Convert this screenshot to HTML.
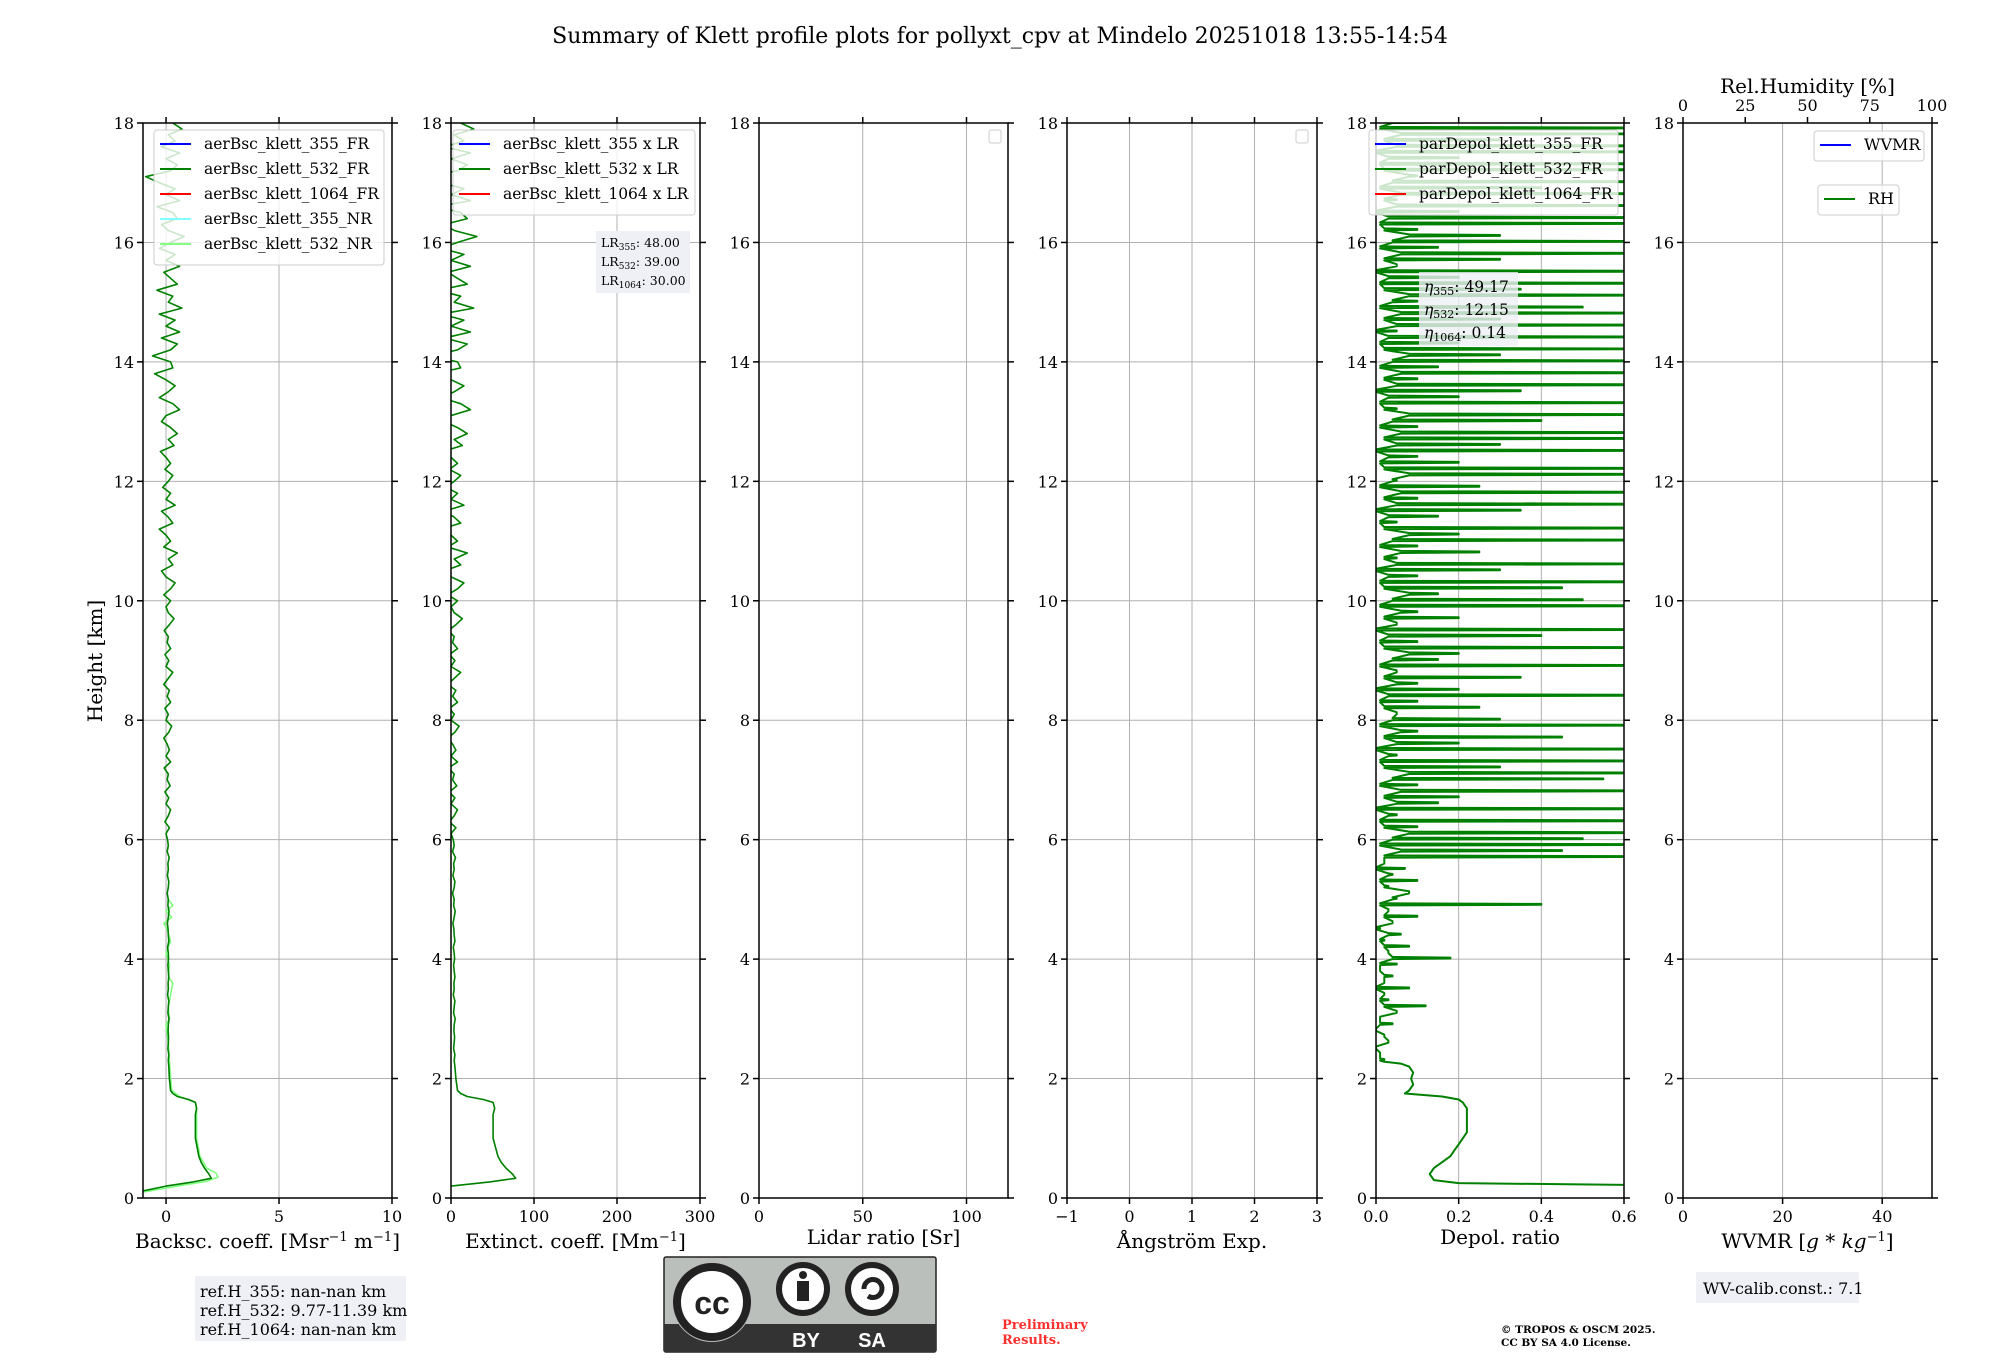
<!DOCTYPE html>
<html><head><meta charset="utf-8"><style>
body{margin:0;background:#fff}
svg{display:block;font-family:"DejaVu Serif","Liberation Serif",serif}
</style></head><body>
<svg id="fig" width="2000" height="1360" viewBox="0 0 2000 1360" xmlns="http://www.w3.org/2000/svg">
<text x="1000" y="43" font-size="22" text-anchor="middle">Summary of Klett profile plots for pollyxt_cpv at Mindelo 20251018 13:55-14:54</text>
<g id="panels"></g>
<text transform="translate(102,661) rotate(-90)" font-size="20" text-anchor="middle">Height [km]</text>
<g>
<rect x="195" y="1276" width="211" height="65" fill="#eef0f5"/>
<text x="200" y="1297" font-size="16">ref.H_355: nan-nan km</text>
<text x="200" y="1316" font-size="16">ref.H_532: 9.77-11.39 km</text>
<text x="200" y="1335" font-size="16">ref.H_1064: nan-nan km</text>
</g>
<g>
<rect x="664" y="1257" width="272" height="95" fill="#bbbfbb" stroke="#222" stroke-width="1.5" rx="2"/>
<rect x="664" y="1324" width="272" height="28" fill="#333"/>
<circle cx="712" cy="1302" r="40" fill="#bbbfbb"/>
<circle cx="712" cy="1302" r="35" fill="#fff" stroke="#222" stroke-width="8"/>
<text x="712" y="1314" font-family="Liberation Sans" font-weight="bold" font-size="32" text-anchor="middle" fill="#222">cc</text>
<circle cx="803" cy="1289" r="24" fill="#fff" stroke="#222" stroke-width="6"/>
<circle cx="803" cy="1275" r="4" fill="#222"/>
<rect x="797" y="1281" width="12" height="20" fill="#222"/>
<circle cx="872" cy="1289" r="24" fill="#fff" stroke="#222" stroke-width="6"/>
<path d="M864 1289 a9 9 0 1 1 4 7" fill="none" stroke="#222" stroke-width="5"/>
<text x="806" y="1347" font-family="Liberation Sans" font-weight="bold" font-size="20" text-anchor="middle" fill="#fff">BY</text>
<text x="872" y="1347" font-family="Liberation Sans" font-weight="bold" font-size="20" text-anchor="middle" fill="#fff">SA</text>
</g>
<text x="1002" y="1329" font-size="13" font-weight="bold" fill="#ff3030">Preliminary</text>
<text x="1002" y="1344" font-size="13" font-weight="bold" fill="#ff3030">Results.</text>
<text x="1501" y="1333" font-size="10.5" font-weight="bold">© TROPOS &amp; OSCM 2025.</text>
<text x="1501" y="1346" font-size="10.5" font-weight="bold">CC BY SA 4.0 License.</text>
<g>
<rect x="1696" y="1272" width="163" height="31" fill="#eef0f5"/>
<text x="1703" y="1294" font-size="16">WV-calib.const.: 7.1</text>
</g>
</svg>
<script>
// ---- data ----
const bsc532Low = [[0.12,-1.0],[0.2,0.0],[0.27,1.2],[0.33,2.0],[0.4,1.9],[0.5,1.7],[0.6,1.55],[0.7,1.45],[0.8,1.4],[1.0,1.3],[1.2,1.3],[1.4,1.3],[1.5,1.35],[1.6,1.3],[1.65,1.0],[1.7,0.5],[1.75,0.3],[1.8,0.2],[2.0,0.15],[2.2,0.12]];
const bsc532Start = 2.3, bsc532Step = 0.1;
const bsc532Vals = [0.1,0.12,0.08,0.1,0.11,0.09,0.1,0.13,0.08,0.1,0.12,0.07,0.1,0.09,0.12,0.1,0.08,0.11,0.1,0.07,0.12,0.1,0.09,0.06,0.1,0.13,0.08,0.1,0.05,0.1,0.12,0.06,0.1,0.08,0.14,0.05,0.1,0.07,
0.0,0.15,-0.05,0.1,0.2,0.0,0.12,-0.05,0.18,0.05,0.1,-0.08,0.2,0.0,0.15,0.05,-0.1,0.12,0.25,0.0,0.1,-0.05,0.2,0.05,0.15,-0.1,0.1,0.3,0.0,0.12,-0.05,0.2,0.05,0.1,-0.08,0.15,0.35,0.1,0.0,0.2,
-0.1,0.2,0.4,0.0,-0.2,0.3,0.1,0.5,-0.1,0.2,0.0,-0.3,0.3,0.1,-0.2,0.4,0.0,0.2,-0.15,0.1,0.3,-0.05,0.2,0.0,-0.25,0.35,0.1,0.5,0.2,-0.2,0.0,0.6,0.3,-0.3,0.1,0.4,0.0,-0.5,0.3,0.2,
-0.6,0.2,0.5,-0.2,0.6,0.0,0.4,-0.3,0.7,0.1,0.3,-0.4,0.5,0.2,-0.1,0.6,0.0,0.4,-0.3,0.2,0.8,0.1,-0.2,0.5,0.3,-0.4,0.6,0.0,0.4,-0.3,-0.9,0.2,0.5,0.0,0.6,-0.2,0.4,0.1,0.7,0.3];
const bsc532NR = [[0.1,-1.0],[0.2,0.5],[0.28,1.8],[0.35,2.3],[0.42,2.2],[0.5,1.8],[0.7,1.5],[1.0,1.35],[1.5,1.35],[1.6,1.3],[1.7,0.6],[1.8,0.25],[2.0,0.2],[2.3,0.15],[2.6,0.1],[2.9,0.0],[3.0,0.15],[3.2,0.1],[3.4,0.2],[3.6,0.3],[3.7,0.1],[3.9,0.15],[4.1,0.0],[4.3,0.2],[4.5,0.05],[4.6,-0.1],[4.7,0.25],[4.8,0.0],[4.9,0.3],[5.0,0.1]];
const LR532 = 39;
const depolLow = [[0.22,0.6],[0.25,0.2],[0.3,0.14],[0.4,0.13],[0.5,0.14],[0.6,0.16],[0.7,0.18],[0.8,0.19],[0.9,0.2],[1.0,0.21],[1.1,0.22],[1.3,0.22],[1.5,0.22],[1.6,0.21],[1.65,0.2],[1.7,0.16],[1.75,0.07],[1.8,0.08],[1.9,0.09],[2.0,0.085],[2.1,0.09],[2.2,0.08],[2.25,0.06],[2.28,0.02]];
const depolStart = 2.3, depolStep = 0.1;
const depolBase = [0.01,0.03,0.0,0.05,0.02,0.06,0.01,0.04,0.08,0.02];
const depolVals = [0.02,0.01,0.0,0.03,0.02,0.0,0.04,0.01,0.05,0.12,0.03,0.02,0.08,0.02,0.04,0.01,0.05,0.18,
0.03,0.08,0.02,0.06,0.01,0.04,0.1,0.03,0.4,0.05,0.08,0.03,0.1,0.04,0.07,0.02,
0.6,0.45,0.6,0.5,0.6,
0.1,0.6,0.05,0.6,0.15,0.2,0.6,0.1,0.55,0.6,0.3,0.6,0.05,0.6,0.2,0.45,0.1,0.6,0.3,0.05,0.25,0.1,0.6,0.2,0.1,0.35,0.05,0.6,0.15,0.2,0.6,0.1,0.4,0.6,0.05,0.2,0.1,0.6,0.5,0.15,0.45,0.6,0.1,0.3,0.6,0.05,0.25,0.1,0.6,0.2,0.6,0.05,0.15,0.35,0.6,0.1,0.6,0.25,0.05,0.6,0.6,0.2,0.1,0.6,0.3,0.6,0.6,0.1,0.4,0.6,0.05,0.6,0.2,0.35,0.6,0.1,0.6,0.15,0.6,0.3,0.6,0.2,0.6,0.05,0.6,0.3,0.6,0.5,0.1,0.6,0.35,0.6,0.2,0.6,0.05,0.3,0.6,0.15,0.6,0.3,0.1,0.6,0.6,0.2,0.6,0.05,0.6,0.4,0.6,0.1,0.6,0.6,0.2,0.6,0.6,0.3,0.6,0.6,0.2];
const heightTicks = [0,2,4,6,8,10,12,14,16,18];

// ---- layout ----
const NS = "http://www.w3.org/2000/svg";
const TOP = 123, BOT = 1198, HMAX = 18;
const yS = h => BOT - h / HMAX * (BOT - TOP);
const panelsG = document.getElementById('panels');
function el(tag, attrs, parent) {
  const e = document.createElementNS(NS, tag);
  for (const k in attrs) e.setAttribute(k, attrs[k]);
  (parent || panelsG).appendChild(e);
  return e;
}
const panels = [
  {id:'backscatter', l:143, r:392, xmin:-1.02, xmax:10, ticks:[0,5,10], fmt:v=>String(v)},
  {id:'extinction', l:451, r:700, xmin:0, xmax:300, ticks:[0,100,200,300], fmt:v=>String(v)},
  {id:'lidar-ratio', l:759, r:1008, xmin:0, xmax:120, ticks:[0,50,100], fmt:v=>String(v)},
  {id:'angstrom', l:1067, r:1317, xmin:-1, xmax:3, ticks:[-1,0,1,2,3], fmt:v=>v<0?'\u2212'+(-v):String(v)},
  {id:'depol', l:1376, r:1624, xmin:0, xmax:0.6, ticks:[0,0.2,0.4,0.6], fmt:v=>v.toFixed(1)},
  {id:'wvmr', l:1683, r:1932, xmin:0, xmax:50, ticks:[0,20,40], fmt:v=>String(v)}
];
panels.forEach((p, i) => {
  p.x = v => p.l + (v - p.xmin) / (p.xmax - p.xmin) * (p.r - p.l);
  const g = el('g', {});
  
  
  p.g = g;
  const cp = el('clipPath', {id:'clip' + i}, g);
  el('rect', {x:p.l, y:TOP, width:p.r - p.l, height:BOT - TOP}, cp);
  heightTicks.forEach(h => {
    const y = yS(h);
    const gl = el('line', {x1:p.l, x2:p.r, y1:y, y2:y, stroke:'#b0b0b0', 'stroke-width':1}, g);
    
    
    el('line', {x1:p.l - 6, x2:p.l, y1:y, y2:y, stroke:'#000', 'stroke-width':1.5}, g);
    el('line', {x1:p.r, x2:p.r + 6, y1:y, y2:y, stroke:'#000', 'stroke-width':1.5}, g);
    const t = el('text', {x:p.l - 9, y:y + 6, 'font-size':16, 'text-anchor':'end'}, g);
    
    
    t.textContent = h;
  });
  p.ticks.forEach(v => {
    const x = p.x(v);
    const gl = el('line', {x1:x, x2:x, y1:TOP, y2:BOT, stroke:'#b0b0b0', 'stroke-width':1}, g);
    
    
    el('line', {x1:x, x2:x, y1:BOT, y2:BOT + 6, stroke:'#000', 'stroke-width':1.5}, g);
    if (p.id !== 'wvmr') el('line', {x1:x, x2:x, y1:TOP - 6, y2:TOP, stroke:'#000', 'stroke-width':1.5}, g);
    const t = el('text', {x:x, y:BOT + 24, 'font-size':16, 'text-anchor':'middle'}, g);
    
    
    t.textContent = p.fmt(v);
  });
  p.marks = el('g', {'clip-path':'url(#clip' + i + ')'}, g);
});
function drawLine(p, pts, color, name, w) {
  const d = pts.map((q, k) => (k ? 'L' : 'M') + p.x(q[1]).toFixed(1) + ' ' + yS(q[0]).toFixed(1)).join('');
  const path = el('path', {d:d, fill:'none', stroke:color, 'stroke-width':w || 1.6, 'stroke-linejoin':'round'}, p.marks);
  
  
}
const bsc532 = bsc532Low.concat(bsc532Vals.map((v, k) => [bsc532Start + k * bsc532Step, v]));
// depol above 2.3 km: each sample drawn as a thin horizontal spike from a low baseline
const depolSpikes = [];
depolVals.forEach((v, k) => {
  const h = depolStart + k * depolStep;
  const b = Math.min(v, depolBase[k % depolBase.length]);
  depolSpikes.push([h, b], [h + 0.01, v], [h + 0.025, v], [h + 0.035, b]);
});
const depol = depolLow.concat(depolSpikes);
drawLine(panels[0], bsc532NR, '#7fff7f', 'line-aerbsc-532-nr');
drawLine(panels[0], bsc532, '#008000', 'line-aerbsc-532-fr');
drawLine(panels[1], bsc532.map(q => [q[0], q[1] * LR532]), '#008000', 'line-ext-532');
drawLine(panels[4], depol, '#008000', 'line-pardepol-532', 2);

// spines & axis labels
const labels = [
  ['Backsc. coeff. [Msr<tspan baseline-shift="super" font-size="13">\u22121</tspan> m<tspan baseline-shift="super" font-size="13">\u22121</tspan>]', 'backscatter-x-title'],
  ['Extinct. coeff. [Mm<tspan baseline-shift="super" font-size="13">\u22121</tspan>]', 'extinction-x-title'],
  ['Lidar ratio [Sr]', 'lidar-ratio-x-title'],
  ['\u00c5ngstr\u00f6m Exp.', 'angstrom-x-title'],
  ['Depol. ratio', 'depol-x-title'],
  ['WVMR [<tspan font-style="italic">g</tspan> * <tspan font-style="italic">kg</tspan><tspan baseline-shift="super" font-size="13">\u22121</tspan>]', 'wvmr-x-title']
];
panels.forEach((p, i) => {
  el('rect', {x:p.l, y:TOP, width:p.r - p.l, height:BOT - TOP, fill:'none', stroke:'#000', 'stroke-width':1.5}, p.g);
  const t = el('text', {x:(p.l + p.r) / 2, y:i === 2 || i === 4 ? 1244 : 1248, 'font-size':20, 'text-anchor':'middle'}, p.g);
  
  
  t.innerHTML = labels[i][0];
});
// RH top axis
const rhTicks = [0,25,50,75,100];
const pw = panels[5];
rhTicks.forEach(v => {
  const x = pw.l + v / 100 * (pw.r - pw.l);
  el('line', {x1:x, x2:x, y1:TOP - 6, y2:TOP, stroke:'#000', 'stroke-width':1.5}, pw.g);
  const t = el('text', {x:x, y:TOP - 12, 'font-size':16, 'text-anchor':'middle'}, pw.g);
  
  
  t.textContent = v;
});
const rht = el('text', {x:(pw.l + pw.r) / 2, y:93, 'font-size':20, 'text-anchor':'middle'}, pw.g);


rht.textContent = 'Rel.Humidity [%]';

// legends
function legend(name, x, y, w, entries, fs, rowH) {
  const g = el('g', {});
  
  
  el('rect', {x:x, y:y, width:w, height:entries.length * rowH + 10, rx:3, fill:'rgba(255,255,255,0.8)', stroke:'#ccc'}, g);
  entries.forEach((e, k) => {
    const cy = y + 14 + k * rowH;
    el('line', {x1:x + 6, x2:x + 37, y1:cy, y2:cy, stroke:e[1], 'stroke-width':2}, g);
    const t = el('text', {x:x + 50, y:cy + 5, 'font-size':fs}, g);
    t.textContent = e[0];
  });
}
legend('backscatter-legend', 154, 130, 230, [['aerBsc_klett_355_FR','#0000ff'],['aerBsc_klett_532_FR','#008000'],['aerBsc_klett_1064_FR','#ff0000'],['aerBsc_klett_355_NR','#80ffff'],['aerBsc_klett_532_NR','#80ff80']], 15.5, 25);
legend('extinction-legend', 453, 130, 242, [['aerBsc_klett_355 x LR','#0000ff'],['aerBsc_klett_532 x LR','#008000'],['aerBsc_klett_1064 x LR','#ff0000']], 15.5, 25);
legend('depol-legend', 1369, 130, 249, [['parDepol_klett_355_FR','#0000ff'],['parDepol_klett_532_FR','#008000'],['parDepol_klett_1064_FR','#ff0000']], 15.5, 25);
legend('wvmr-legend', 1814, 131, 110, [['WVMR','#0000ff']], 16, 20);
legend('rh-legend', 1818, 185, 81, [['RH','#008000']], 16, 20);
[[989,130],[1296,130]].forEach((q, k) => {
  const r = el('rect', {x:q[0], y:q[1], width:12, height:13, rx:2, fill:'#fff', stroke:'#ccc'});
  
  
});
// info boxes
function infoBox(name, x, y, w, h, lines, fs, lh, bg) {
  const g = el('g', {});
  
  
  el('rect', {x:x, y:y, width:w, height:h, fill:bg}, g);
  lines.forEach((s, k) => {
    const t = el('text', {x:x + 5, y:y + lh * (k + 1) - 3, 'font-size':fs}, g);
    t.innerHTML = s;
  });
}
infoBox('lidar-ratio-info', 596, 231, 94, 62, ['LR<tspan font-size="9" dy="3">355</tspan><tspan dy="-3">: 48.00</tspan>','LR<tspan font-size="9" dy="3">532</tspan><tspan dy="-3">: 39.00</tspan>','LR<tspan font-size="9" dy="3">1064</tspan><tspan dy="-3">: 30.00</tspan>'], 12.5, 19, '#eef0f5');
infoBox('eta-info', 1419, 272, 99, 74, ['<tspan font-style="italic">η</tspan><tspan font-size="11" dy="3">355</tspan><tspan dy="-3">: 49.17</tspan>','<tspan font-style="italic">η</tspan><tspan font-size="11" dy="3">532</tspan><tspan dy="-3">: 12.15</tspan>','<tspan font-style="italic">η</tspan><tspan font-size="11" dy="3">1064</tspan><tspan dy="-3">: 0.14</tspan>'], 15.5, 23, 'rgba(238,240,245,0.8)');
</script>
</body></html>
